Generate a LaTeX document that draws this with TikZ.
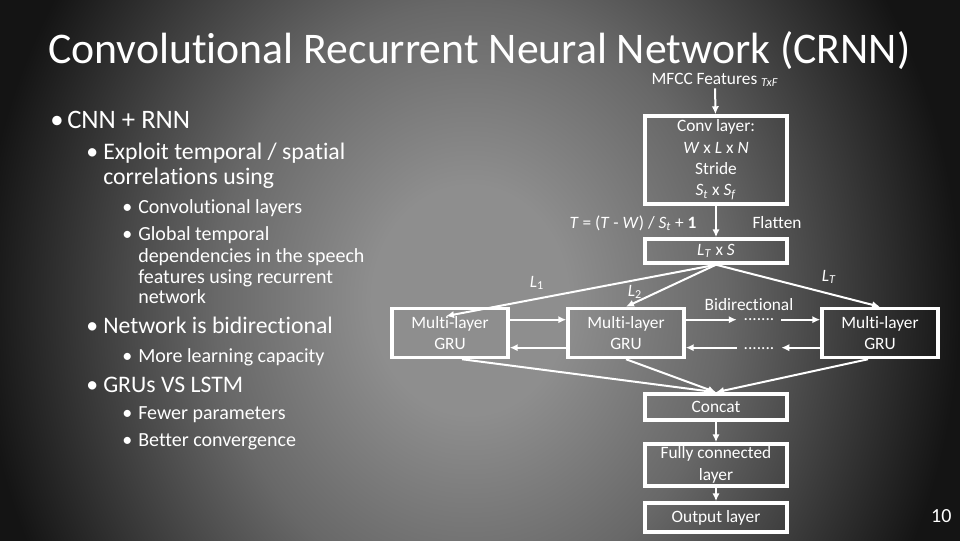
\documentclass[tikz,border=0pt]{standalone}
\usepackage{fontspec}
\setmainfont[Ligatures=NoCommon]{Carlito}
\usepackage{xcolor}
\usetikzlibrary{arrows.meta,calc}

\definecolor{bglight}{HTML}{8E8E8E}
\definecolor{bgmid}{HTML}{686868}
\definecolor{bgdark}{HTML}{141414}
\pgfdeclareradialshading{slideshade}{\pgfpoint{0bp}{0bp}}{color(0bp)=(bglight); color(5bp)=(bglight); color(13bp)=(bgmid); color(25bp)=(bgdark); color(50bp)=(bgdark)}

\tikzset{
	box/.style={draw=white, line width=2.6pt, minimum width=106.5pt, inner sep=0pt, align=center, text=white, font=\fontsize{13}{16}\selectfont},
	gru/.style={box, minimum width=87pt, minimum height=36.75pt},
	lbl/.style={text=white, inner sep=1pt, font=\fontsize{13}{16}\selectfont},
	dots/.style={lbl, inner xsep=5pt, inner ysep=0pt},
	arr/.style={draw=white, line width=1.5pt, -{Latex[length=6pt,width=5.5pt]}},
	lvone/.style={anchor=base west, text=white, inner sep=0pt, font=\fontsize{20}{24}\selectfont},
	lvtwo/.style={anchor=base west, text=white, inner sep=0pt, font=\fontsize{17.8}{21}\selectfont},
	lvthree/.style={anchor=base west, text=white, inner sep=0pt, font=\fontsize{15}{18}\selectfont}
}

\begin{document}
\begin{tikzpicture}[x=0.75pt, y=-0.75pt]
		\useasboundingbox (0,0) rectangle (960,540);
		\begin{scope}
			\clip (0,0) rectangle (960,540);
			\shade[shading=slideshade] (-20,-270) rectangle (960,870);
		\end{scope}

		\node[anchor=base west, inner sep=0pt, text depth=0pt, text=white, font=\fontsize{32.8}{38}\selectfont] (title) at (48,63) {Convolutional Recurrent Neural Network (CRNN)};

		\node[lvone] (bcnn) at (50,128) {•};
		\node[lvone] (cnn) at (67,128) {CNN + RNN};
		\node[lvtwo] (bexp) at (86,159) {•};
		\node[lvtwo] (exp) at (103,159) {Exploit temporal / spatial};
		\node[lvtwo] (expb) at (103,184) {correlations using};
		\node[lvthree] (bconv) at (122,213) {•};
		\node[lvthree] (convl) at (138,213) {Convolutional layers};
		\node[lvthree] (bglob) at (122,240) {•};
		\node[lvthree] (globa) at (138,240) {Global temporal};
		\node[lvthree] (globb) at (138,262) {dependencies in the speech};
		\node[lvthree] (globc) at (138,283) {features using recurrent};
		\node[lvthree] (globd) at (138,303) {network};
		\node[lvtwo] (bnet) at (86,333) {•};
		\node[lvtwo] (net) at (103,333) {Network is bidirectional};
		\node[lvthree] (bmore) at (122,362) {•};
		\node[lvthree] (more) at (138,362) {More learning capacity};
		\node[lvtwo] (bgru) at (86,392) {•};
		\node[lvtwo] (grus) at (103,392) {GRUs VS LSTM};
		\node[lvthree] (bfew) at (122,419) {•};
		\node[lvthree] (few) at (138,419) {Fewer parameters};
		\node[lvthree] (bbet) at (122,446) {•};
		\node[lvthree] (bet) at (138,446) {Better convergence};

		\node[lbl] (mfcc) at (715,80) {MFCC Features \textsubscript{\textit{TxF}}};
		\node[box, minimum height=66pt] (conv) at (716,160) {Conv layer:\\\textit{W} x \textit{L} x \textit{N}\\Stride\\\textit{S}\textsubscript{\textit{t}} x \textit{S}\textsubscript{\textit{f}}};
		\node[box, minimum height=18pt] (lt) at (716,251) {\textit{L}\textsubscript{\textit{T}} x \textit{S}};
		\node[gru] (gruA) at (450,333) {Multi-layer\\GRU};
		\node[gru] (gruB) at (626,333) {Multi-layer\\GRU};
		\node[gru] (gruC) at (880,333) {Multi-layer\\GRU};
		\node[box, minimum height=19.5pt] (concat) at (716,407) {Concat};
		\node[box, minimum height=31.5pt] (fc) at (716,465) {Fully connected\\layer};
		\node[box, minimum height=21.75pt] (outl) at (716,517.5) {Output layer};

		\node[lbl] (tform) at (633,223) {\textit{T} = (\textit{T} - \textit{W}) / \textit{S}\textsubscript{\textit{t}} + \textbf{1}};
		\node[lbl] (flat) at (777,223) {Flatten};
		\node[lbl] (lone) at (537,283) {\textit{L}\textsubscript{1}};
		\node[lbl] (ltwo) at (635,292) {\textit{L}\textsubscript{2}};
		\node[lbl] (lT) at (829,277) {\textit{L}\textsubscript{\textit{T}}};
		\node[lbl] (bidir) at (749,305) {Bidirectional};
		\node[dots] (dtop) at (759,320) {.......};
		\node[dots] (dbot) at (759,349) {.......};

		\coordinate (topB) at ([yshift=10pt]gruB.east);
		\coordinate (botB) at ([yshift=-11pt]gruB.east);
		\coordinate (topC) at ([yshift=10pt]gruC.west);
		\coordinate (botC) at ([yshift=-11pt]gruC.west);

		\draw[arr] (mfcc) -- (conv);
		\draw[arr] (conv) -- (lt);
		\draw[arr] (lt.south) -- ([xshift=-3pt,yshift=-7pt]gruA.north);
		\draw[arr] (lt.south) -- (gruB.north);
		\draw[arr] (lt.south) -- (gruC.north);
		\draw[arr] ([yshift=10pt]gruA.east) -- ([yshift=10pt]gruB.west);
		\draw[arr] ([yshift=-11pt]gruB.west) -- ([yshift=-11pt]gruA.east);
		\draw[arr] (topB) -- (topB -| dtop.west);
		\draw[arr] (topC -| dtop.east) -- (topC);
		\draw[arr] (botC) -- (botC -| dbot.east);
		\draw[arr] (botB -| dbot.west) -- (botB);
		\draw[arr] ([xshift=9pt]gruA.south) -- (concat.north);
		\draw[arr] (gruB.south) -- (concat.north);
		\draw[arr] ([xshift=-9pt]gruC.south) -- (concat.north);
		\draw[arr] (concat) -- (fc);
		\draw[arr] (fc) -- (outl);

		\node[lbl, anchor=base east, font=\fontsize{15}{18}\selectfont] (pnum) at (953,522) {10};
	\end{tikzpicture}
\end{document}
